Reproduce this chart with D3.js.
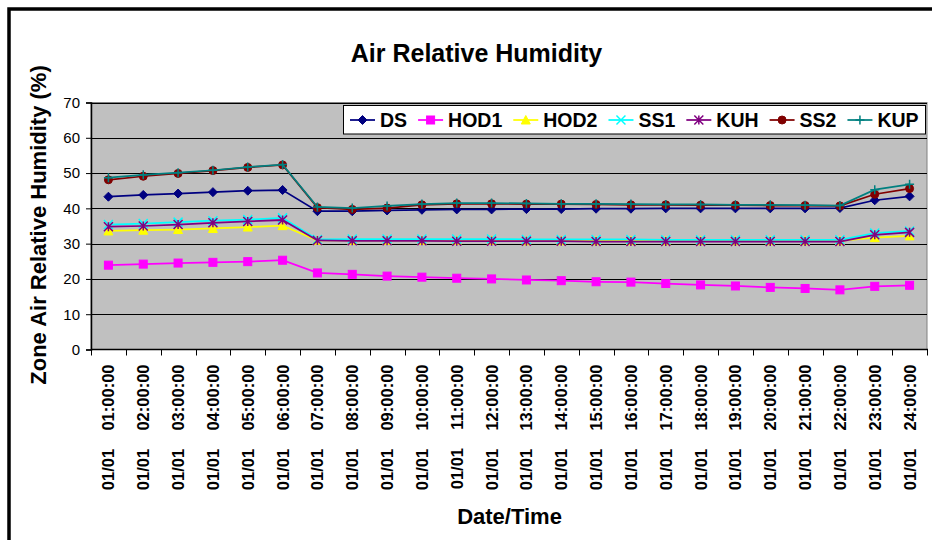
<!DOCTYPE html>
<html><head><meta charset="utf-8">
<script src="https://cdn.jsdelivr.net/npm/d3@7/dist/d3.min.js"></script>
<style>html,body{margin:0;padding:0;background:#fff;}svg{display:block;}</style>
</head><body>
<svg id="chart" width="932" height="540"></svg>
<script>
const categories = ["01/01    01:00:00","01/01    02:00:00","01/01    03:00:00","01/01    04:00:00","01/01    05:00:00","01/01    06:00:00","01/01    07:00:00","01/01    08:00:00","01/01    09:00:00","01/01    10:00:00","01/01    11:00:00","01/01    12:00:00","01/01    13:00:00","01/01    14:00:00","01/01    15:00:00","01/01    16:00:00","01/01    17:00:00","01/01    18:00:00","01/01    19:00:00","01/01    20:00:00","01/01    21:00:00","01/01    22:00:00","01/01    23:00:00","01/01    24:00:00"];
const DS   = [43.3,43.8,44.2,44.6,45.0,45.2,39.2,39.2,39.4,39.6,39.7,39.7,39.8,39.8,39.9,39.9,40.0,40.0,40.0,40.0,40.0,40.1,42.3,43.4];
const HOD1 = [23.9,24.2,24.5,24.7,24.9,25.3,21.7,21.3,20.8,20.5,20.2,20.0,19.7,19.5,19.2,19.1,18.7,18.3,18.0,17.6,17.3,16.9,17.9,18.2];
const HOD2 = [33.6,33.8,34.0,34.3,34.7,35.1,30.9,30.9,30.9,30.9,30.9,30.9,30.8,30.8,30.8,30.8,30.8,30.8,30.8,30.8,30.8,30.8,31.7,32.2];
const SS1  = [35.4,35.7,36.1,36.5,36.8,37.3,31.2,31.3,31.3,31.3,31.3,31.3,31.2,31.2,31.2,31.2,31.1,31.1,31.1,31.1,31.1,31.1,33.0,33.6];
const KUH  = [34.8,35.0,35.4,35.9,36.3,36.7,30.9,30.8,30.8,30.8,30.7,30.7,30.7,30.7,30.6,30.6,30.6,30.6,30.6,30.6,30.6,30.6,32.5,33.2];
const SS2  = [48.1,49.1,49.9,50.7,51.6,52.3,40.2,39.7,40.1,41.0,41.3,41.3,41.2,41.2,41.1,41.0,41.0,40.9,40.9,40.8,40.8,40.7,44.0,45.6];
const KUP  = [48.7,49.5,50.1,50.8,51.7,52.4,40.4,40.1,40.7,41.2,41.5,41.5,41.4,41.3,41.3,41.2,41.1,41.1,41.0,41.0,40.9,40.8,45.3,46.8];
const seriesNames = ["DS","HOD1","HOD2","SS1","KUH","SS2","KUP"];
const yTicks = [0,10,20,30,40,50,60,70];

const seriesValues = [DS,HOD1,HOD2,SS1,KUH,SS2,KUP];
const colors = ["#000080","#FF00FF","#FFFF00","#00FFFF","#800080","#800000","#008080"];
const markers = ["diamond","square","triangle","x","star","circle","plus"];
const FONT = "'Liberation Sans', Arial, sans-serif";

const svg = d3.select("#chart");
const L = 91, R = 927, T = 102.5, B = 349.5;

svg.append("rect").attr("x",9).attr("y",9).attr("width",1000).attr("height",1000)
  .attr("fill","#fff").attr("stroke","#000").attr("stroke-width",3.5);

const x = d3.scaleBand().domain(categories).range([L,R]);
const y = d3.scaleLinear().domain([0,70]).range([B,T]);
const cx = d => x(d) + x.bandwidth()/2;

svg.append("rect").attr("x",L).attr("y",T).attr("width",R-L).attr("height",B-T)
  .attr("fill","#C0C0C0").attr("stroke","#808080").attr("stroke-width",1);

svg.append("g").selectAll("line").data(yTicks.filter(v=>v>0)).join("line")
  .attr("x1",L).attr("x2",R).attr("y1",d=>Math.round(y(d))+0.5).attr("y2",d=>Math.round(y(d))+0.5)
  .attr("stroke","#000").attr("stroke-width",1);

const yAxis = d3.axisLeft(y).tickValues(yTicks).tickSize(5).tickPadding(6).tickFormat(d3.format("d"));
const gy = svg.append("g").attr("transform",`translate(${L},0)`).call(yAxis);
gy.select(".domain").attr("stroke","#000").attr("stroke-width",1.5);
gy.selectAll(".tick line").attr("stroke","#000");
gy.selectAll(".tick text").attr("font-family",FONT).attr("font-size",15).attr("fill","#000");

svg.append("line").attr("x1",L).attr("x2",R+1).attr("y1",B).attr("y2",B).attr("stroke","#000").attr("stroke-width",1.5);
const bounds = categories.map(c=>x(c)).concat([x.range()[1]]);
svg.append("g").selectAll("line").data(bounds).join("line")
  .attr("x1",d=>Math.round(d)+0.5).attr("x2",d=>Math.round(d)+0.5).attr("y1",B).attr("y2",B+6)
  .attr("stroke","#000");

svg.append("g").selectAll("text").data(categories).join("text")
  .attr("transform",d=>`translate(${cx(d)},${B+15}) rotate(-90)`)
  .attr("text-anchor","end").attr("dy","0.36em")
  .attr("font-family",FONT).attr("font-weight","bold").attr("font-size",16.5)
  .style("white-space","pre").attr("xml:space","preserve")
  .text(d=>d);

svg.append("text").attr("x",476.5).attr("y",62).attr("text-anchor","middle")
  .attr("font-family",FONT).attr("font-weight","bold").attr("font-size",25).text("Air Relative Humidity");
svg.append("text").attr("x",509.5).attr("y",524).attr("text-anchor","middle")
  .attr("font-family",FONT).attr("font-weight","bold").attr("font-size",22).text("Date/Time");
svg.append("text").attr("transform","translate(38,225) rotate(-90)").attr("text-anchor","middle").attr("dy","0.36em")
  .attr("font-family",FONT).attr("font-weight","bold").attr("font-size",22).text("Zone Air Relative Humidity (%)");

function drawMarker(g, type, color) {
  const s = 4.5;
  if (type==="diamond") g.append("path").attr("d",`M0,${-s}L${s},0L0,${s}L${-s},0Z`).attr("fill",color).attr("stroke",color);
  else if (type==="square") g.append("rect").attr("x",-s+0.5).attr("y",-s+0.5).attr("width",2*s-1).attr("height",2*s-1).attr("fill",color).attr("stroke",color);
  else if (type==="triangle") g.append("path").attr("d",`M0,${-s}L${s},${s-0.5}L${-s},${s-0.5}Z`).attr("fill",color).attr("stroke",color);
  else if (type==="circle") g.append("circle").attr("r",s-0.5).attr("fill",color).attr("stroke",color);
  else if (type==="x") g.append("path").attr("d",`M${-s},${-s}L${s},${s}M${-s},${s}L${s},${-s}`).attr("stroke",color).attr("stroke-width",1.5).attr("fill","none");
  else if (type==="star") g.append("path").attr("d",`M${-s},${-s}L${s},${s}M${-s},${s}L${s},${-s}M0,${-s}L0,${s}`).attr("stroke",color).attr("stroke-width",1.5).attr("fill","none");
  else if (type==="plus") g.append("path").attr("d",`M${-s},0L${s},0M0,${-s}L0,${s}`).attr("stroke",color).attr("stroke-width",1.5).attr("fill","none");
}

const line = d3.line().x((d,i)=>cx(categories[i])).y(d=>y(d));
seriesNames.forEach((name,si)=>{
  const g = svg.append("g");
  g.append("path").datum(seriesValues[si]).attr("d",line).attr("fill","none")
    .attr("stroke",colors[si]).attr("stroke-width",1.75);
  seriesValues[si].forEach((v,i)=>{
    const mg = g.append("g").attr("transform",`translate(${cx(categories[i])},${y(v)})`);
    drawMarker(mg, markers[si], colors[si]);
  });
});

const lg = svg.append("g");
lg.append("rect").attr("x",343.5).attr("y",105.5).attr("width",582).attr("height",28.5)
  .attr("fill","#fff").attr("stroke","#000").attr("stroke-width",1);
let lx = 350;
seriesNames.forEach((name,si)=>{
  const e = lg.append("g");
  e.append("line").attr("x1",lx).attr("x2",lx+25).attr("y1",120).attr("y2",120).attr("stroke",colors[si]).attr("stroke-width",1.75);
  const mg = e.append("g").attr("transform",`translate(${lx+12.5},120)`);
  drawMarker(mg, markers[si], colors[si]);
  const t = e.append("text").attr("x",lx+30).attr("y",127).attr("font-family",FONT).attr("font-weight","bold")
    .attr("font-size",19.5).text(name);
  lx = lx + 30 + t.node().getComputedTextLength() + 11;
});
</script>
</body></html>
